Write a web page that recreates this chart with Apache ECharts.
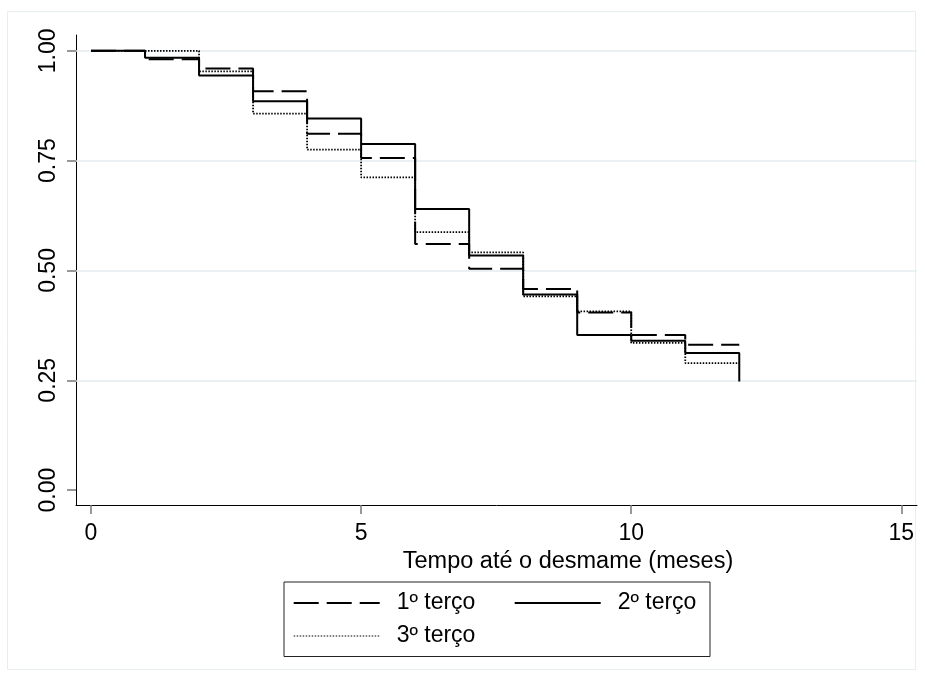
<!DOCTYPE html>
<html>
<head>
<meta charset="utf-8">
<script src="https://cdn.jsdelivr.net/npm/echarts@6/dist/echarts.min.js"></script>
<style>
  html, body { margin: 0; padding: 0; background: #fff; }
  #chart { width: 925px; height: 679px; }
</style>
</head>
<body>
<div id="chart"></div>
<script>
// Kaplan-Meier curves, tempo ate o desmame
const meses = [0, 1, 2, 3, 4, 5, 6, 7, 8, 9, 10, 11, 12]
const terco1 = [1, 0.981, 0.960, 0.908, 0.811, 0.756, 0.560, 0.504, 0.458, 0.404, 0.353, 0.331, 0.331]
const terco2 = [1, 0.984, 0.944, 0.885, 0.846, 0.788, 0.640, 0.534, 0.445, 0.353, 0.340, 0.312, 0.247]
const terco3 = [1, 1.000, 0.953, 0.857, 0.775, 0.712, 0.587, 0.541, 0.441, 0.407, 0.335, 0.289, 0.289]
const seriesNames = ['1º terço', '2º terço', '3º terço']
const xTicks = [0, 5, 10, 15]
const yTicks = [0, 0.25, 0.5, 0.75, 1]
const yGrid = [0.25, 0.5, 0.75, 1]
const xTitle = 'Tempo até o desmame (meses)'

const font = 'Liberation Sans, Arial, sans-serif'
const chart = echarts.init(document.getElementById('chart'))

const toPoints = (vals) => meses.map((m, i) => [m, vals[i]])

const baseSeries = {
  type: 'line',
  step: 'end',
  symbol: 'none',
  showSymbol: false,
  silent: true,
  z: 3,
  itemStyle: { color: '#000' },
}

chart.setOption({
  animation: false,
  graphic: [
    {
      type: 'rect',
      silent: true,
      shape: { x: 7.5, y: 11.5, width: 908, height: 658 },
      style: { fill: 'none', stroke: '#e6eef0', lineWidth: 1 },
    },
  ],
  grid: { left: 76, right: 8, top: 35, bottom: 174 },
  xAxis: {
    type: 'value',
    min: -0.278,
    max: 15.29,
    axisLine: { onZero: false, lineStyle: { color: '#000', width: 1 } },
    axisTick: { customValues: xTicks, length: 9, lineStyle: { color: '#777', width: 1.5 } },
    axisLabel: {
      customValues: xTicks,
      color: '#000',
      fontFamily: font,
      fontSize: 23,
      margin: 17,
    },
    splitLine: { show: false },
    name: xTitle,
    nameLocation: 'middle',
    nameGap: 44,
    nameTextStyle: {
      color: '#000',
      fontFamily: font,
      fontSize: 23.5,
      padding: [0, 0, 0, 143],
    },
  },
  yAxis: {
    type: 'value',
    min: -0.034,
    max: 1.036,
    axisLine: { show: true, onZero: false, lineStyle: { color: '#000', width: 1 } },
    axisTick: { show: true, customValues: yTicks, length: 9, lineStyle: { color: '#777', width: 1.5 } },
    axisLabel: {
      customValues: yTicks,
      formatter: (v) => Number(v).toFixed(2),
      rotate: 90,
      color: '#000',
      fontFamily: font,
      fontSize: 23,
      margin: 16,
    },
    splitLine: { show: false },
  },
  legend: {
    left: 284,
    top: 582,
    width: 450,
    orient: 'horizontal',
    itemGap: 10,
    itemWidth: 86,
    itemHeight: 14,
    padding: [9.5, 13.6, 9, 8.7],
    borderColor: '#222',
    borderWidth: 1,
    backgroundColor: '#fff',
    // hide the dot that line series put in the middle of the legend icon
    itemStyle: { color: 'rgba(0,0,0,0)', opacity: 0, borderWidth: 0 },
    textStyle: {
      color: '#000',
      fontFamily: font,
      fontSize: 23,
      lineHeight: 23,
      padding: [0, 0, 0, 12],
    },
    data: [
      { name: seriesNames[0], textStyle: { width: 107 } },
      { name: seriesNames[1] },
      { name: seriesNames[2], lineStyle: { width: 1 } },
    ],
  },
  series: [
    {
      ...baseSeries,
      name: seriesNames[0],
      data: toPoints(terco1),
      lineStyle: { color: '#000', width: 2, type: [25, 8] },
      markLine: {
        silent: true,
        z: 1,
        symbol: ['none', 'none'],
        label: { show: false },
        lineStyle: { color: '#e3edf0', width: 1.5, type: 'solid' },
        data: yGrid.map((v) => ({ yAxis: v })),
      },
    },
    {
      ...baseSeries,
      name: seriesNames[1],
      data: toPoints(terco2),
      lineStyle: { color: '#000', width: 2, type: 'solid' },
    },
    {
      ...baseSeries,
      name: seriesNames[2],
      data: toPoints(terco3),
      lineStyle: { color: '#000', width: 1.8, type: [1.5, 1.5] },
    },
  ],
})
</script>
</body>
</html>
